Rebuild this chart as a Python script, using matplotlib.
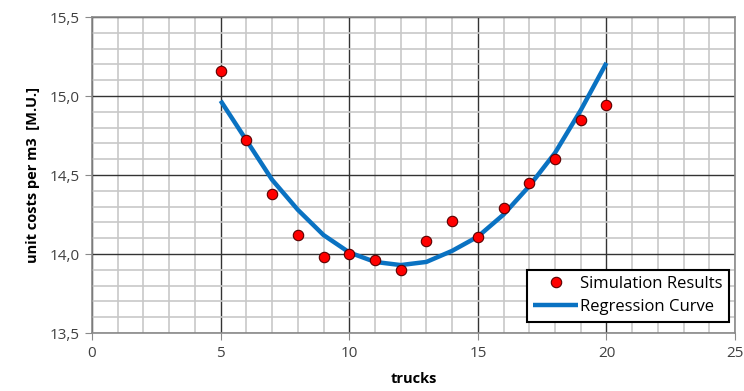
import os
os.environ.setdefault("MPLBACKEND", "Agg")
import matplotlib.pyplot as plt
from matplotlib.ticker import MultipleLocator, FuncFormatter

plt.rcParams['font.family'] = ['Open Sans', 'DejaVu Sans']

# simulation results (trucks -> unit cost)
trucks = [5, 6, 7, 8, 9, 10, 11, 12, 13, 14, 15, 16, 17, 18, 19, 20]
sim_cost = [15.16, 14.72, 14.38, 14.12, 13.98, 14.00, 13.96, 13.90,
            14.08, 14.21, 14.11, 14.29, 14.45, 14.60, 14.85, 14.94]
# regression curve read at integer trucks
reg_cost = [14.97, 14.72, 14.47, 14.28, 14.12, 14.01, 13.95, 13.93,
            13.95, 14.02, 14.11, 14.25, 14.43, 14.64, 14.91, 15.21]

fig = plt.figure(figsize=(7.44, 3.91), dpi=100)
ax = fig.add_axes([0.1237, 0.1483, 0.8643, 0.8082])

ax.set_xlim(0, 25)
ax.set_ylim(13.5, 15.5)
ax.xaxis.set_major_locator(MultipleLocator(5))
ax.xaxis.set_minor_locator(MultipleLocator(1))
ax.yaxis.set_major_locator(MultipleLocator(0.5))
ax.yaxis.set_minor_locator(MultipleLocator(0.1))
ax.yaxis.set_major_formatter(FuncFormatter(lambda v, p: f"{v:.1f}".replace(".", ",")))

ax.grid(which="minor", color="#c8c8c8", lw=1.2)
ax.grid(which="major", color="#333333", lw=1.0)
ax.set_axisbelow(True)
for s in ax.spines.values():
    s.set_color("#8a8a8a")
    s.set_linewidth(1.2)
ax.tick_params(which="major", length=5, color="#8a8a8a", labelsize=11, labelcolor="#404040", pad=4)
ax.tick_params(which="minor", length=0)

ax.plot(trucks, reg_cost, color="#0a72c2", lw=3.2, solid_capstyle="butt",
        label="Regression Curve", zorder=3)
ax.plot(trucks, sim_cost, ls="none", marker="o", ms=7.5, mfc="#ff0000", mec="#5a0000",
        mew=0.8, label="Simulation Results", zorder=4)

ax.set_xlabel("trucks", fontsize=10.5, fontweight="bold", labelpad=8)
ax.set_ylabel("unit costs per m3  [M.U.]", fontsize=10.5, fontweight="bold", labelpad=7)

h, l = ax.get_legend_handles_labels()
leg = ax.legend(h[::-1], l[::-1], loc="lower right", bbox_to_anchor=(0.991, 0.035),
                borderaxespad=0, fontsize=12, frameon=True, fancybox=False, framealpha=1,
                edgecolor="black", handlelength=2.7, handletextpad=0.1,
                borderpad=0.4, labelspacing=0.42)
leg.get_frame().set_linewidth(1.5)

fig.savefig("out.png", dpi=100, facecolor="white")
